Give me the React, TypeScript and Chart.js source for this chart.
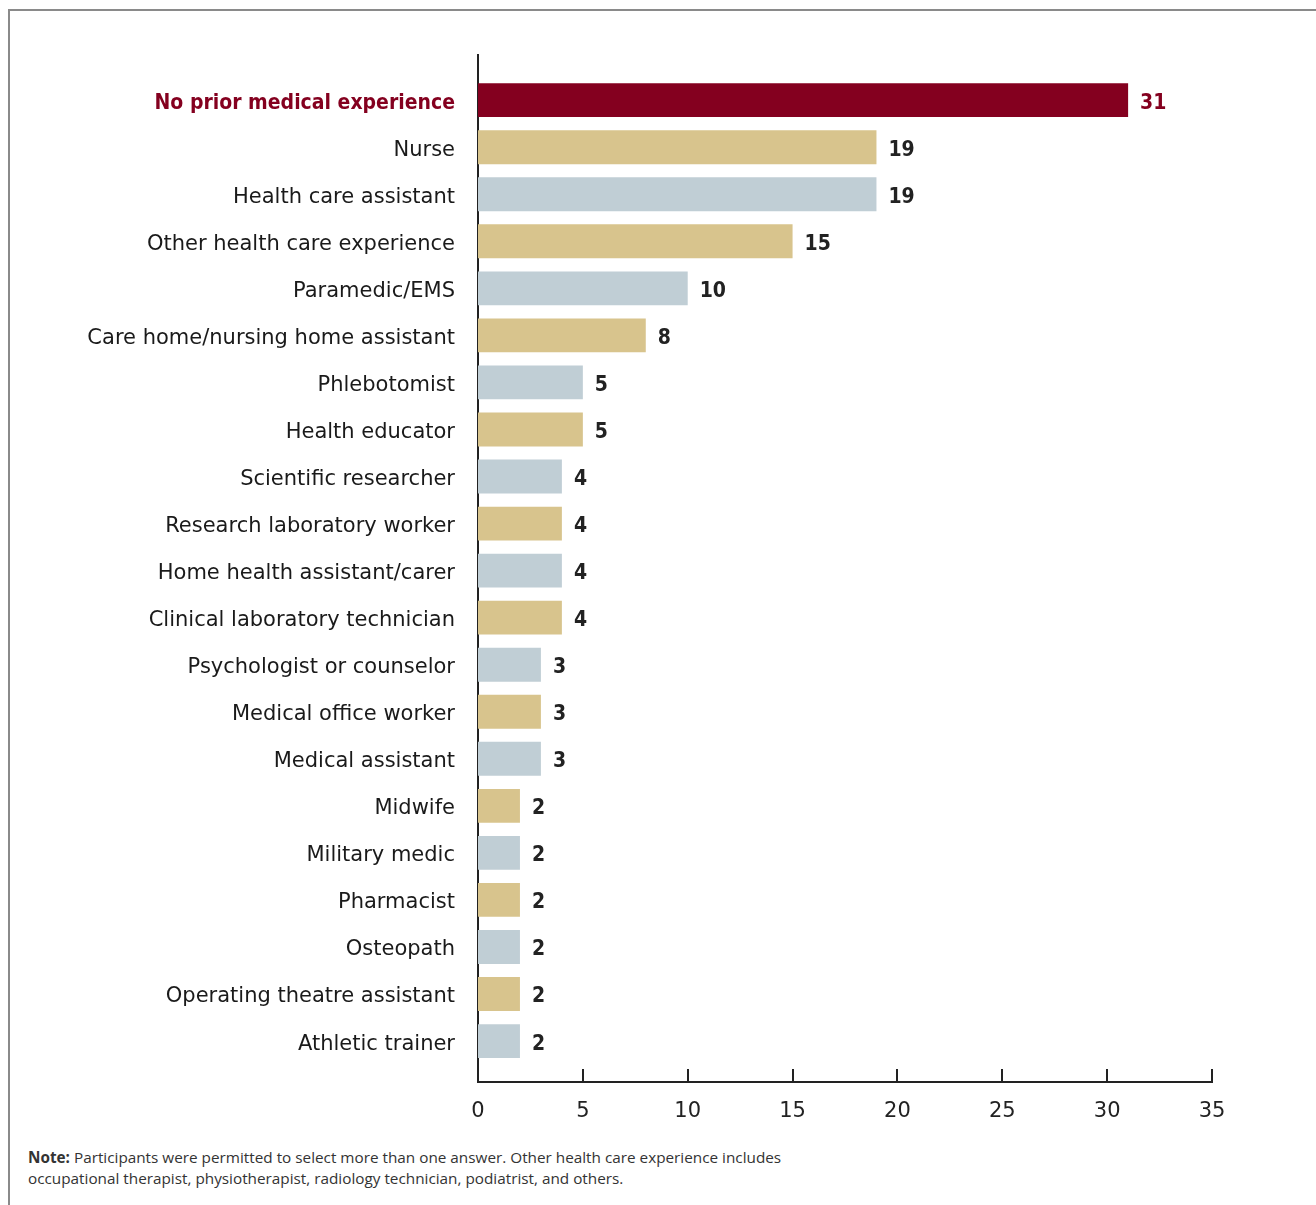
import React, { useEffect, useRef } from "react";
import { Chart, registerables } from "chart.js";

Chart.register(...registerables);

const categories = [
  "No prior medical experience",
  "Nurse",
  "Health care assistant",
  "Other health care experience",
  "Paramedic/EMS",
  "Care home/nursing home assistant",
  "Phlebotomist",
  "Health educator",
  "Scientific researcher",
  "Research laboratory worker",
  "Home health assistant/carer",
  "Clinical laboratory technician",
  "Psychologist or counselor",
  "Medical office worker",
  "Medical assistant",
  "Midwife",
  "Military medic",
  "Pharmacist",
  "Osteopath",
  "Operating theatre assistant",
  "Athletic trainer",
];

const values = [31, 19, 19, 15, 10, 8, 5, 5, 4, 4, 4, 4, 3, 3, 3, 2, 2, 2, 2, 2, 2];

const RED = "#84001f";
const TAN = "#d8c48d";
const BLUE = "#c0ced5";

const barColors = [
  RED, TAN, BLUE, TAN, BLUE, TAN, BLUE, TAN, BLUE, TAN, BLUE,
  TAN, BLUE, TAN, BLUE, TAN, BLUE, TAN, BLUE, TAN, BLUE,
];

const xTickValues = [0, 5, 10, 15, 20, 25, 30, 35];

const FONT = "'DejaVu Sans', sans-serif";
const BOLD_FONT = "'DejaVu Sans Condensed', 'DejaVu Sans', sans-serif";

const decorPlugin = {
  id: "decor",
  afterDatasetsDraw(chart: any) {
    const { ctx, chartArea } = chart;
    const xs = chart.scales.x;
    ctx.save();
    ctx.strokeStyle = "#222";
    ctx.lineWidth = 2;
    xTickValues.forEach((v) => {
      const px = Math.round(xs.getPixelForValue(v));
      ctx.beginPath();
      ctx.moveTo(px, chartArea.bottom);
      ctx.lineTo(px, chartArea.bottom - 13);
      ctx.stroke();
    });
    const meta = chart.getDatasetMeta(0);
    ctx.textBaseline = "middle";
    ctx.textAlign = "left";
    meta.data.forEach((bar: any, i: number) => {
      ctx.fillStyle = i === 0 ? RED : "#222";
      ctx.font = `bold 21px ${BOLD_FONT}`;
      ctx.fillText(String(values[i]), bar.x + 12, bar.y + 3);
    });
    ctx.restore();
  },
};

export default function App() {
  const ref = useRef<HTMLCanvasElement>(null);

  useEffect(() => {
    if (!ref.current) return;
    const chart = new Chart(ref.current, {
      type: "bar",
      data: {
        datasets: [
          {
            data: values.map((v, i) => ({ x: v, y: i })),
            backgroundColor: barColors,
            borderWidth: 0,
            barPercentage: 0.72,
            categoryPercentage: 1,
          },
        ],
      },
      options: {
        indexAxis: "y",
        animation: false,
        responsive: false,
        maintainAspectRatio: false,
        devicePixelRatio: 1,
        layout: { padding: { top: 44, right: 104, bottom: 0, left: 0 } },
        plugins: {
          legend: { display: false },
          tooltip: { enabled: false },
        },
        scales: {
          y: {
            type: "linear",
            position: "left",
            reverse: true,
            offset: false,
            min: -0.96,
            max: 20.87,
            afterBuildTicks: (s: any) => {
              s.ticks = categories.map((_, i) => ({ value: i }));
            },
            afterFit: (s: any) => {
              s.width = 468;
            },
            grid: { display: false, drawTicks: false, offset: false },
            border: { display: true, color: "#222", width: 2 },
            ticks: {
              autoSkip: false,
              padding: 23,
              labelOffset: 3,
              callback: (v: any) => categories[v as number],
              color: (c: any) => (c.index === 0 ? RED : "#1a1a1a"),
              font: (c: any) =>
                c.index === 0
                  ? { family: BOLD_FONT, size: 21, weight: "bold" }
                  : { family: FONT, size: 21, weight: "normal" },
            },
          },
          x: {
            type: "linear",
            position: "bottom",
            min: 0,
            max: 35,
            afterBuildTicks: (s: any) => {
              s.ticks = xTickValues.map((v) => ({ value: v }));
            },
            afterFit: (s: any) => {
              s.height = 50;
            },
            grid: { display: false, drawTicks: false },
            border: { display: true, color: "#222", width: 2 },
            ticks: {
              padding: 17,
              color: "#222",
              font: { family: FONT, size: 21 },
            },
          },
        },
      },
      plugins: [decorPlugin],
    } as any);
    return () => chart.destroy();
  }, []);

  return (
    <div style={{ position: "absolute", left: 0, top: 0, width: 1316, height: 1205, background: "#fff" }}>
      <div
        style={{
          position: "absolute",
          left: 8,
          top: 9,
          width: 1308,
          height: 1196,
          borderTop: "2px solid #8a8a8a",
          borderLeft: "2px solid #8a8a8a",
          boxSizing: "border-box",
        }}
      />
      <canvas
        ref={ref}
        width={1306}
        height={1121}
        style={{ position: "absolute", left: 10, top: 11, width: 1306, height: 1121 }}
      />
      <div
        style={{
          position: "absolute",
          left: 28,
          top: 1147,
          width: 860,
          fontFamily: "'Open Sans', sans-serif",
          fontSize: 15.3,
          lineHeight: "21px",
          color: "#333",
          whiteSpace: "nowrap",
        }}
      >
        <b>Note:</b> Participants were permitted to select more than one answer. Other health care experience includes
        <br />
        occupational therapist, physiotherapist, radiology technician, podiatrist, and others.
      </div>
    </div>
  );
}
